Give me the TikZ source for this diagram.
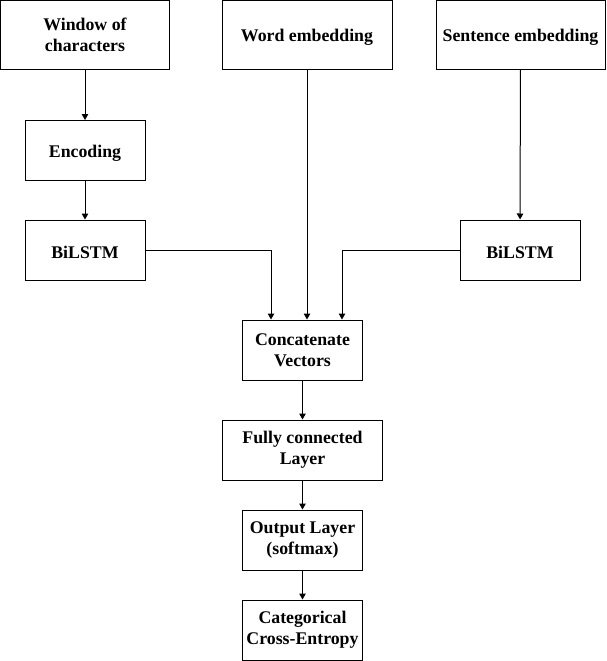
\documentclass[tikz,border=0pt]{standalone}
\usepackage{fontspec}
\setmainfont{Liberation Serif}
\usetikzlibrary{arrows.meta}
\begin{document}
\begin{tikzpicture}[x=1pt,y=-1pt,
  box/.style={draw=black,line width=1pt,fill=white,inner sep=0pt,align=center,
    font=\fontsize{17.8}{21}\selectfont\bfseries,
    execute at begin node={\rule{0pt}{17.3pt}}},
  arr/.style={draw=black,line width=1pt,-{Triangle[length=6pt,width=6.5pt]}}]
\useasboundingbox (0,0) rectangle (606,661);
\node[box,minimum width=169pt,minimum height=69pt] (win) at (85,35) {Window of\\characters};
\node[box,minimum width=170pt,minimum height=69pt] (word) at (307,35) {Word embedding};
\node[box,minimum width=169pt,minimum height=69pt] (sent) at (520.5,35) {Sentence embedding};
\node[box,minimum width=120pt,minimum height=60pt] (enc) at (85,150.5) {Encoding};
\node[box,minimum width=120pt,minimum height=60pt] (bil1) at (85,250) {BiLSTM};
\node[box,minimum width=120pt,minimum height=60pt] (bil2) at (520,250) {BiLSTM};
\node[box,minimum width=120pt,minimum height=60pt] (cat) at (302.5,350) {Concatenate\\Vectors};
\node[box,minimum width=160pt,minimum height=60pt] (fc) at (302.5,450) {Fully connected\\Layer};
\node[box,minimum width=120pt,minimum height=60pt] (out) at (302.5,540) {Output Layer\\(softmax)};
\node[box,minimum width=120pt,minimum height=60pt] (cce) at (302.5,630) {Categorical\\Cross-Entropy};
\draw[arr] (win) -- (enc);
\draw[arr] (enc) -- (bil1);
\draw[arr] (sent) -- (bil2);
\draw[arr] (bil1.east) -| ([xshift=-31.5pt]cat.north);
\draw[arr] (bil2.west) -| ([xshift=39.5pt]cat.north);
\draw[arr] (word.south) -- (word.south |- cat.north);
\draw[arr] (cat) -- (fc);
\draw[arr] (fc) -- (out);
\draw[arr] (out) -- (cce);
\end{tikzpicture}
\end{document}
